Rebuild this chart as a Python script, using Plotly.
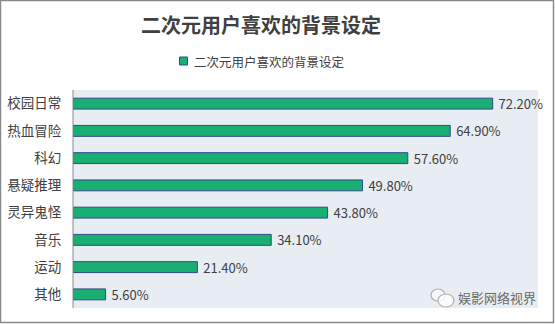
import plotly.graph_objects as go

# Background settings preferred by anime fans (share of users, %)
categories = ["校园日常", "热血冒险", "科幻", "悬疑推理", "灵异鬼怪", "音乐", "运动", "其他"]
values = [72.2, 64.9, 57.6, 49.8, 43.8, 34.1, 21.4, 5.6]
series_name = "二次元用户喜欢的背景设定"
title_text = "二次元用户喜欢的背景设定"
watermark = "娱影网络视界"

W, H = 555, 324
L, R, T, B = 73, 17, 90, 16
pw, ph = W - L - R, H - T - B

font_family = "Noto Sans CJK SC, Noto Sans, sans-serif"
text_color = "#404040"
bar_fill = "#1aaf72"
bar_edge = "#2f4a8a"

fig = go.Figure()
fig.add_trace(go.Bar(
    x=values,
    y=categories,
    orientation="h",
    name=series_name,
    marker=dict(color=bar_fill, line=dict(color=bar_edge, width=1)),
    text=[f"\u00a0{v:.2f}%" for v in values],
    textposition="outside",
    constraintext="none",
    textfont=dict(size=13, color=text_color, family=font_family),
    cliponaxis=False,
    width=0.4,
    showlegend=False,
))


def px_x(p):
    return (p - L) / pw


def px_y(p):
    return (H - B - p) / ph


shapes = [
    # outer frame of the chart
    dict(type="rect", xref="paper", yref="paper",
         x0=px_x(0.5), x1=px_x(553.5), y0=px_y(0.5), y1=px_y(322.5),
         line=dict(color="#8a8a8a", width=1.5), fillcolor="rgba(0,0,0,0)", layer="above"),
    # y-axis line
    dict(type="line", xref="paper", yref="paper",
         x0=0, x1=0, y0=0, y1=1, line=dict(color="#8c8c8c", width=1), layer="above"),
    # legend swatch
    dict(type="rect", xref="paper", yref="paper",
         x0=px_x(179.5), x1=px_x(187.5), y0=px_y(65), y1=px_y(57),
         line=dict(color=bar_edge, width=1), fillcolor=bar_fill),
    # chat-bubble icon beside the signature
    dict(type="circle", xref="paper", yref="paper",
         x0=px_x(431), x1=px_x(445), y0=px_y(301), y1=px_y(289),
         line=dict(color="#b0b0b0", width=1.2), fillcolor="rgba(255,255,255,0.6)"),
    dict(type="circle", xref="paper", yref="paper",
         x0=px_x(438), x1=px_x(454), y0=px_y(307), y1=px_y(294),
         line=dict(color="#b0b0b0", width=1.2), fillcolor="rgba(255,255,255,0.8)"),
]

annotations = [
    # chart title
    dict(text=f"<b>{title_text}</b>", xref="paper", yref="paper",
         x=px_x(261), y=px_y(24), xanchor="center", yanchor="middle", showarrow=False,
         font=dict(size=20, color=text_color, family=font_family)),
    # legend label
    dict(text=series_name, xref="paper", yref="paper",
         x=px_x(192), y=px_y(61), xanchor="left", yanchor="middle", showarrow=False,
         font=dict(size=12.5, color=text_color, family=font_family)),
    # signature
    dict(text=watermark, xref="paper", yref="paper",
         x=px_x(538), y=px_y(297), xanchor="right", yanchor="middle",
         showarrow=False,
         font=dict(size=13, color="#6a6a6a", family=font_family)),
]

fig.update_layout(
    width=W, height=H,
    margin=dict(l=L, r=R, t=T, b=B, pad=0),
    paper_bgcolor="white",
    plot_bgcolor="#e8ecf3",
    font=dict(family=font_family, color=text_color),
    showlegend=False,
    xaxis=dict(range=[0, 80], showticklabels=False, showgrid=False,
               zeroline=False, showline=False, ticks="", automargin=False),
    yaxis=dict(autorange="reversed", showgrid=False, zeroline=False,
               showline=False, ticks="outside", ticklen=8, tickcolor="rgba(0,0,0,0)",
               automargin=False,
               tickfont=dict(size=13.5, color=text_color, family=font_family)),
    bargap=0.6,
    shapes=shapes,
    annotations=annotations,
)

fig.write_html("out.html")
